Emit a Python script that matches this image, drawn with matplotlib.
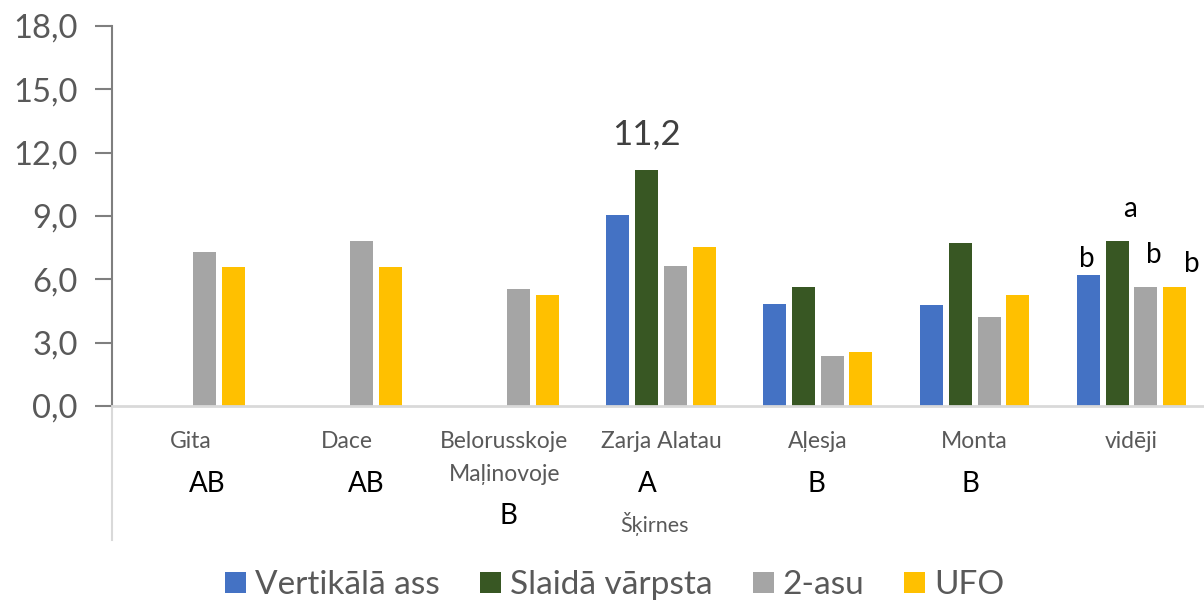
import numpy as np
import matplotlib
matplotlib.use('Agg')
import matplotlib.pyplot as plt
from matplotlib.patches import Patch

matplotlib.rcParams['font.family'] = ['Lato', 'DejaVu Sans']

# data
categories = ['Gita', 'Dace', 'Belorusskoje\nMaļinovoje', 'Zarja Alatau', 'Aļesja', 'Monta', 'vidēji']
series = ['Vertikālā ass', 'Slaidā vārpsta', '2-asu', 'UFO']
vertikala = [np.nan, np.nan, np.nan, 9.05, 4.83, 4.78, 6.19]
slaida    = [np.nan, np.nan, np.nan, 11.2, 5.64, 7.71, 7.80]
divasu    = [7.28, 7.83, 5.53, 6.63, 2.37, 4.23, 5.64]
ufo       = [6.58, 6.58, 5.26, 7.53, 2.54, 5.26, 5.62]
group_letters = ['AB', 'AB', 'B', 'A', 'B', 'B']
mean_letters = ['b', 'a', 'b', 'b']

colors = ['#4472C4', '#385723', '#A5A5A5', '#FFC000']
values = [vertikala, slaida, divasu, ufo]

W, H = 1204, 601
fig = plt.figure(figsize=(W / 100, H / 100), dpi=100)
ax = fig.add_axes([112 / W, (H - 406) / H, 1098 / W, 380 / H])

x = np.arange(len(categories))
slot = 0.183
bw = 0.147
for i, (vals, c) in enumerate(zip(values, colors)):
    ax.bar(x + (i - 1.5) * slot, vals, width=bw, color=c, zorder=2)

ax.set_xlim(-0.5, len(categories) - 0.5)
ax.set_ylim(0, 18)
ax.set_yticks(np.arange(0, 18.1, 3))
ax.set_yticklabels([f'{v:.1f}'.replace('.', ',') for v in np.arange(0, 18.1, 3)])
ax.tick_params(axis='y', direction='out', length=12, width=1.5, color='#7F7F7F',
               labelsize=23.5, labelcolor='#595959', pad=12.5)
ax.set_xticks(x)
ax.set_xticklabels(categories, fontsize=16.5, color='#595959', linespacing=1.69)
ax.tick_params(axis='x', length=0, pad=18)

for s in ['top', 'right']:
    ax.spines[s].set_visible(False)
ax.spines['left'].set_color('#7F7F7F')
ax.spines['left'].set_linewidth(1.5)
ax.spines['bottom'].set_color('#D9D9D9')
ax.spines['bottom'].set_linewidth(2)

# light gray line continuing below the axis
ax.plot([-0.5, -0.5], [0, -(540 - 406) / 380 * 18], color='#D9D9D9', lw=1.5,
        clip_on=False, zorder=1)

# value label on the tallest bar
ax.text(3 - 0.5 * slot, 12.1, '11,2', ha='center', va='bottom', fontsize=25, color='#404040')

# letters over the mean bars
mean_pos = [(6 - 1.5 * slot - 0.01, 6.33), (6 - 0.5 * slot + 0.08, 8.7),
            (6 + 0.5 * slot + 0.05, 6.52), (6 + 1.5 * slot + 0.11, 6.1)]
for (px, py), t in zip(mean_pos, mean_letters):
    ax.text(px, py, t, ha='center', va='bottom', fontsize=20, color='black')

# group letters under the categories
letter_x = [0.11, 1.12, 2.03, 2.91, 3.99, 4.97]
letter_y = [484, 484, 516, 484, 484, 484]
trans = ax.get_xaxis_transform()
for lx, ly, t in zip(letter_x, letter_y, group_letters):
    ax.text(lx, (406 - ly) / 380, t, ha='center', va='center', fontsize=20,
            color='black', transform=trans)

ax.text(2.96, (406 - 524) / 380, 'Šķirnes', ha='center', va='center', fontsize=15.5,
        color='#595959', transform=trans)

handles = [Patch(facecolor=c, edgecolor='none') for c in colors]
fig.legend(handles, series, loc='center', bbox_to_anchor=(615 / W, (H - 585) / H),
           ncol=4, frameon=False, fontsize=24, labelcolor='#595959',
           handlelength=0.63, handleheight=0.6, handletextpad=0.27,
           columnspacing=1.2, borderpad=0)

fig.savefig('out.png', dpi=100)
